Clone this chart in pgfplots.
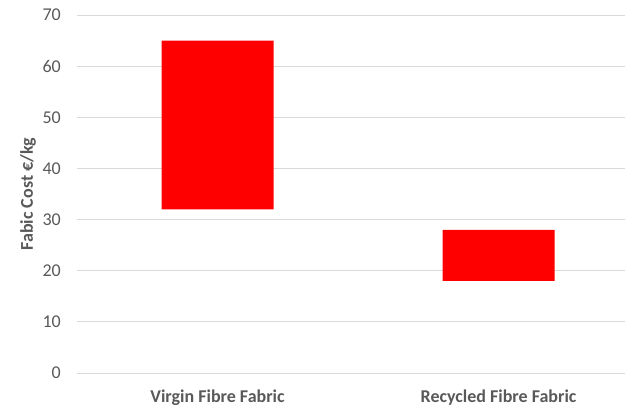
\documentclass[border=0pt]{standalone}
\usepackage{fontspec}
\setmainfont{Carlito}
\usepackage{pgfplots}
\pgfplotsset{compat=1.18}
\definecolor{txtgray}{HTML}{595959}
\definecolor{gridgray}{HTML}{D9D9D9}
\begin{document}
\fontsize{18}{21}\selectfont
\begin{tikzpicture}
\useasboundingbox (-77pt,-35pt) rectangle (548pt,373pt);
\begin{axis}[
  at={(0pt,0pt)}, anchor=south west,
  scale only axis,
  width=548pt, height=358pt,
  xmin=-0.5, xmax=1.45,
  ymin=0, ymax=70,
  ytick={0,10,...,70},
  xtick={0,1},
  xticklabels={Virgin Fibre Fabric, Recycled Fibre Fabric},
  axis line style={draw=none},
  major tick length=0pt,
  ymajorgrids,
  grid style={gridgray, line width=1pt},
  ybar stacked,
  bar width=112pt,
  /pgf/number format/assume math mode=true,
  tick label style={font=\fontsize{18}{21}\selectfont, text=txtgray},
  yticklabel style={inner sep=0pt, anchor=east, xshift=-16pt},
  xticklabel style={inner sep=0pt, anchor=base, yshift=-29pt, font=\fontsize{18}{21}\selectfont\bfseries},
  ylabel={Fabic Cost €/kg},
  every axis y label/.style={at={(axis description cs:0,0.5)}, xshift=-49pt, rotate=90, anchor=center, font=\fontsize{18}{21}\selectfont\bfseries, text=txtgray},
  clip=false,
]
\addplot[draw=none, fill={rgb,255:red,255;green,0;blue,0}, fill opacity=0, forget plot] coordinates {(0,32) (1,18)};
\addplot[draw=none, fill={rgb,255:red,255;green,0;blue,0}] coordinates {(0,33) (1,10)};
\end{axis}
\end{tikzpicture}
\end{document}
